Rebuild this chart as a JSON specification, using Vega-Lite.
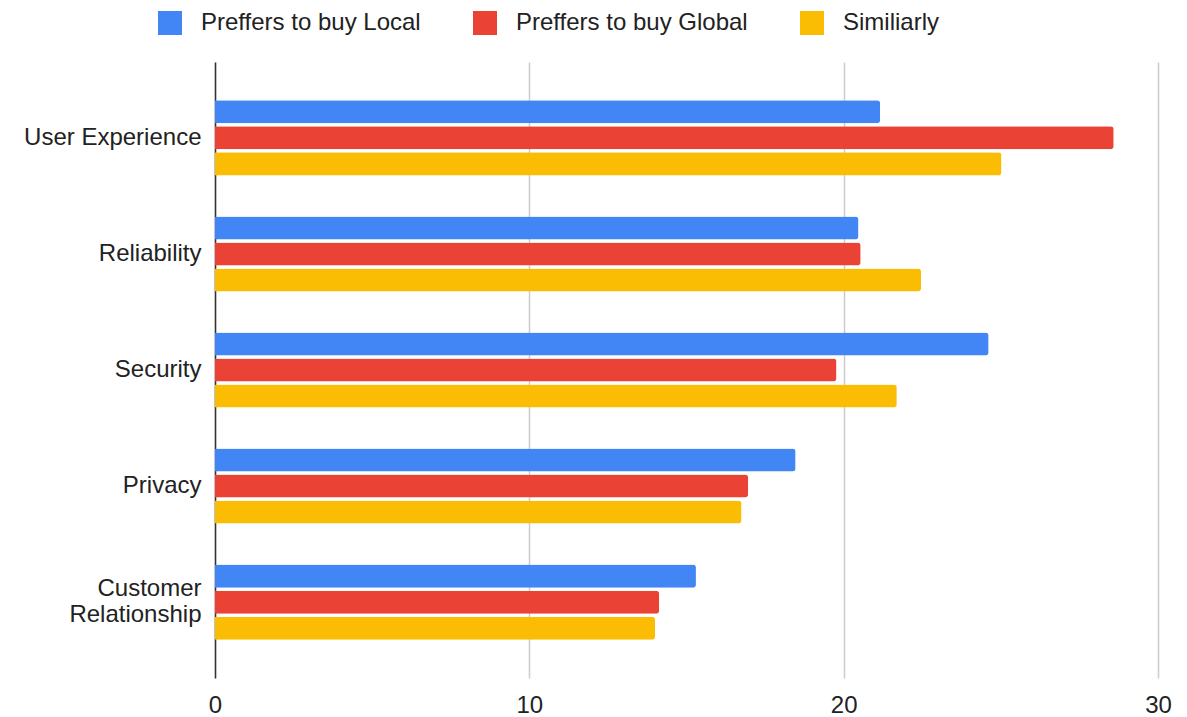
{
  "$schema": "https://vega.github.io/schema/vega-lite/v6.json",
  "autosize": {"type": "none"},
  "padding": {"left": 215, "top": 62, "right": 29, "bottom": 39},
  "width": 943,
  "height": 616,
  "background": "white",
  "data": {
    "values": [
      {"factor": "User Experience", "group": "Preffers to buy Local", "value": 21.16},
      {"factor": "User Experience", "group": "Preffers to buy Global", "value": 28.59},
      {"factor": "User Experience", "group": "Similiarly", "value": 25.02},
      {"factor": "Reliability", "group": "Preffers to buy Local", "value": 20.47},
      {"factor": "Reliability", "group": "Preffers to buy Global", "value": 20.54},
      {"factor": "Reliability", "group": "Similiarly", "value": 22.46},
      {"factor": "Security", "group": "Preffers to buy Local", "value": 24.61},
      {"factor": "Security", "group": "Preffers to buy Global", "value": 19.77},
      {"factor": "Security", "group": "Similiarly", "value": 21.69},
      {"factor": "Privacy", "group": "Preffers to buy Local", "value": 18.47},
      {"factor": "Privacy", "group": "Preffers to buy Global", "value": 16.96},
      {"factor": "Privacy", "group": "Similiarly", "value": 16.75},
      {"factor": "Customer Relationship", "group": "Preffers to buy Local", "value": 15.3},
      {"factor": "Customer Relationship", "group": "Preffers to buy Global", "value": 14.13},
      {"factor": "Customer Relationship", "group": "Similiarly", "value": 14.0}
    ]
  },
  "mark": {"type": "bar", "cornerRadiusEnd": 3},
  "encoding": {
    "y": {
      "field": "factor",
      "type": "nominal",
      "sort": ["User Experience", "Reliability", "Security", "Privacy", "Customer Relationship"],
      "scale": {"paddingInner": 0.353, "paddingOuter": 0.33},
      "axis": {
        "title": null,
        "ticks": false,
        "domainColor": "#333333",
        "domainWidth": 1.5,
        "labelPadding": 14,
        "labelFont": "Liberation Sans",
        "labelFontSize": 24,
        "labelColor": "#222222",
        "labelLineHeight": 26,
        "labelLimit": 300,
        "labelOffset": {"condition": {"test": "datum.value == 'Customer Relationship'", "value": -13}, "value": 0},
        "labelExpr": "datum.value == 'Customer Relationship' ? ['Customer', 'Relationship'] : datum.value"
      }
    },
    "yOffset": {
      "field": "group",
      "type": "nominal",
      "sort": ["Preffers to buy Local", "Preffers to buy Global", "Similiarly"],
      "scale": {"paddingInner": 0.115, "paddingOuter": 0}
    },
    "x": {
      "field": "value",
      "type": "quantitative",
      "scale": {"domain": [0, 30], "nice": false},
      "axis": {
        "title": null,
        "values": [0, 10, 20, 30],
        "domain": false,
        "ticks": false,
        "grid": true,
        "gridColor": "#cccccc",
        "gridWidth": 1.5,
        "labelPadding": 15,
        "labelFont": "Liberation Sans",
        "labelFontSize": 24,
        "labelColor": "#222222",
        "labelFlush": false
      }
    },
    "color": {
      "field": "group",
      "type": "nominal",
      "sort": ["Preffers to buy Local", "Preffers to buy Global", "Similiarly"],
      "scale": {
        "domain": ["Preffers to buy Local", "Preffers to buy Global", "Similiarly"],
        "range": ["#4285F4", "#EA4335", "#FBBC04"]
      },
      "legend": {
        "title": null,
        "orient": "none",
        "direction": "horizontal",
        "legendX": -57,
        "legendY": -51,
        "symbolType": "square",
        "symbolSize": 576,
        "symbolStrokeWidth": 0,
        "labelFont": "Liberation Sans",
        "labelFontSize": 24,
        "labelColor": "#222222",
        "labelOffset": 19,
        "columnPadding": 52,
        "labelLimit": 400
      }
    }
  },
  "config": {"view": {"stroke": null}}
}
